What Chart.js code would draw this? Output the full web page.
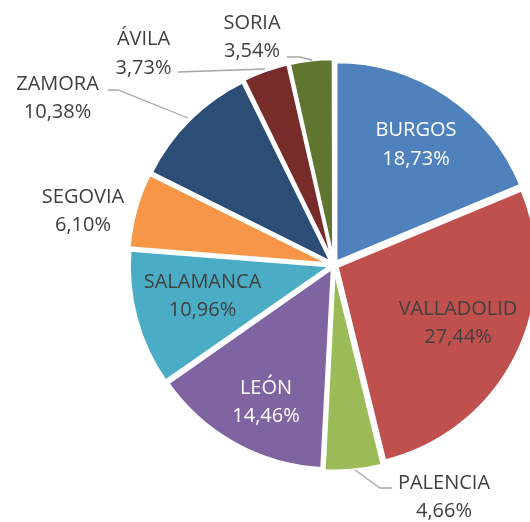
<!DOCTYPE html>
<html>
<head>
<meta charset="utf-8">
<script src="https://cdn.jsdelivr.net/npm/chart.js@4"></script>
<style>
  html, body { margin: 0; padding: 0; background: #ffffff; overflow: hidden; }
  #wrap { width: 530px; height: 522px; }
</style>
</head>
<body>
<div id="wrap"><canvas id="c" width="530" height="522"></canvas></div>
<script>
// ---- data ----
const categories = ['BURGOS', 'VALLADOLID', 'PALENCIA', 'LEÓN', 'SALAMANCA', 'SEGOVIA', 'ZAMORA', 'ÁVILA', 'SORIA'];
const shares = [18.73, 27.44, 4.66, 14.46, 10.96, 6.10, 10.38, 3.73, 3.54];
const percentLabels = shares.map(v => v.toFixed(2).replace('.', ',') + '%');

// ---- styles ----
const sliceColors = ['#4F81BD', '#C0504D', '#9BBB59', '#8064A2', '#4BACC6', '#F79646', '#2C4D75', '#772C2A', '#5F7530'];
const labelColors = ['#FFFFFF', '#404040', '#404040', '#FFFFFF', '#404040', '#404040', '#404040', '#404040', '#404040'];
// label block centres, relative to pie centre (px)
const labelOffsets = [
  [82, -121.5], [124, 57], [110, 231], [-68, 136], [-131.5, 30],
  [-251, -55], [-276.5, -168], [-190.5, -212.5], [-82, -229]
];
// leader lines, relative to pie centre (px)
const leaderLines = [
  null, null,
  [[21, 205], [46, 223], [58, 223]],
  null, null, null,
  [[-226, -175], [-216, -175], [-146, -147]],
  [[-156, -193], [-69, -196]],
  [[-47, -208], [-34, -208], [-22, -205]]
];

const labelPlugin = {
  id: 'sliceLabels',
  afterDatasetsDraw(chart) {
    const ctx = chart.ctx;
    const meta = chart.getDatasetMeta(0);
    const cx = meta.data[0].x, cy = meta.data[0].y;
    ctx.save();
    ctx.strokeStyle = '#A6A6A6';
    ctx.lineWidth = 1.3;
    leaderLines.forEach(pts => {
      if (!pts) return;
      ctx.beginPath();
      pts.forEach((p, i) => i ? ctx.lineTo(cx + p[0], cy + p[1]) : ctx.moveTo(cx + p[0], cy + p[1]));
      ctx.stroke();
    });
    ctx.font = '20px "Open Sans"';
    ctx.textAlign = 'center';
    ctx.textBaseline = 'alphabetic';
    categories.forEach((name, i) => {
      const x = cx + labelOffsets[i][0], y = cy + labelOffsets[i][1];
      ctx.fillStyle = labelColors[i];
      ctx.fillText(name, x, y - 14.25 + 7);
      ctx.fillText(percentLabels[i], x, y + 14.25 + 7);
    });
    ctx.restore();
  }
};

new Chart(document.getElementById('c'), {
  type: 'pie',
  data: {
    labels: categories,
    datasets: [{
      data: shares,
      backgroundColor: sliceColors,
      borderColor: '#FFFFFF',
      borderWidth: 3,
      offset: 14,
      hoverOffset: 0,
      clip: false
    }]
  },
  options: {
    responsive: false,
    animation: false,
    events: [],
    radius: 200,
    layout: { padding: { left: 138, top: 8, right: 0, bottom: 0 } },
    plugins: {
      legend: { display: false },
      title: { display: false },
      tooltip: { enabled: false }
    }
  },
  plugins: [labelPlugin]
});
</script>
</body>
</html>
